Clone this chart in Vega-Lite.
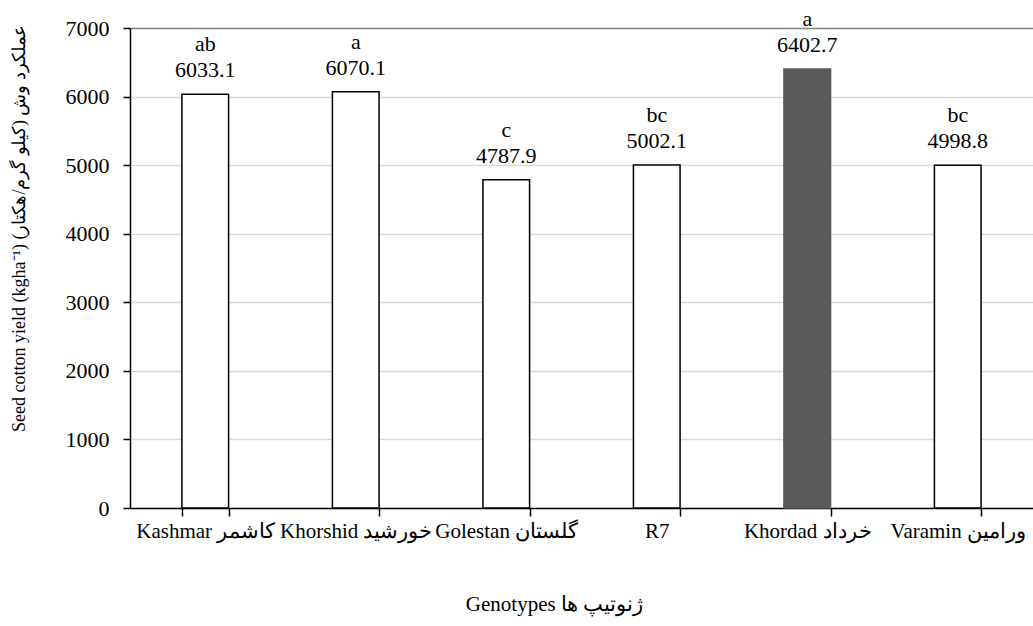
{
  "$schema": "https://vega.github.io/schema/vega-lite/v6.json",
  "autosize": {"type": "none"},
  "padding": {"left": 130, "top": 28, "right": 0, "bottom": 118},
  "width": 903,
  "height": 480,
  "background": "white",
  "config": {
    "view": {"stroke": null},
    "font": "Liberation Serif",
    "axis": {"labelFont": "Liberation Serif", "titleFont": "Liberation Serif", "labelColor": "black", "titleColor": "black", "titleFontWeight": "normal"}
  },
  "data": {
    "values": [
      {"genotype": "Kashmar کاشمر", "yield": 6033.1, "group": "ab", "label": "6033.1", "highlight": "no"},
      {"genotype": "Khorshid خورشید", "yield": 6070.1, "group": "a", "label": "6070.1", "highlight": "no"},
      {"genotype": "Golestan گلستان", "yield": 4787.9, "group": "c", "label": "4787.9", "highlight": "no"},
      {"genotype": "R7", "yield": 5002.1, "group": "bc", "label": "5002.1", "highlight": "no"},
      {"genotype": "Khordad خرداد", "yield": 6402.7, "group": "a", "label": "6402.7", "highlight": "yes"},
      {"genotype": "Varamin ورامین", "yield": 4998.8, "group": "bc", "label": "4998.8", "highlight": "no"}
    ]
  },
  "encoding": {
    "x": {
      "field": "genotype", "type": "nominal", "sort": null,
      "scale": {"paddingInner": 0.69, "paddingOuter": 0.345},
      "axis": {
        "title": "Genotypes ژنوتیپ ها",
        "titleFontSize": 21,
        "titleX": 424,
        "titleY": 96,
        "titleBaseline": "middle",
        "labelAngle": 0,
        "labelFontSize": 21,
        "labelPadding": 4,
        "tickBand": "extent",
        "tickSize": 8,
        "tickColor": "black",
        "tickWidth": 1.5,
        "domainColor": "black",
        "domainWidth": 1.5,
        "grid": false
      }
    },
    "y": {
      "field": "yield", "type": "quantitative",
      "scale": {"domain": [0, 7000], "nice": false},
      "axis": {
        "title": "Seed cotton yield (kgha⁻¹) عملکرد وش (کیلو گرم/هکتار)",
        "titleFontSize": 18,
        "titleX": -111,
        "titleY": 200,
        "titleBaseline": "middle",
        "values": [0, 1000, 2000, 3000, 4000, 5000, 6000, 7000],
        "format": "d",
        "labelFontSize": 22,
        "labelPadding": 14,
        "tickSize": 7,
        "tickColor": "black",
        "tickWidth": 1.5,
        "domainColor": "black",
        "domainWidth": 1.5,
        "grid": true,
        "gridColor": {"condition": {"test": "datum.value === 7000", "value": "#808080"}, "value": "#d9d9d9"},
        "gridWidth": 1.5
      }
    }
  },
  "layer": [
    {
      "mark": {"type": "bar", "strokeWidth": 1.5},
      "encoding": {
        "fill": {
          "field": "highlight", "type": "nominal",
          "scale": {"domain": ["no", "yes"], "range": ["white", "#595959"]},
          "legend": null
        },
        "stroke": {
          "field": "highlight", "type": "nominal",
          "scale": {"domain": ["no", "yes"], "range": ["black", "#595959"]},
          "legend": null
        }
      }
    },
    {
      "mark": {"type": "text", "baseline": "middle", "dy": -24, "fontSize": 22, "font": "Liberation Serif", "color": "black"},
      "encoding": {"text": {"field": "label"}}
    },
    {
      "mark": {"type": "text", "baseline": "middle", "dy": -50, "fontSize": 22, "font": "Liberation Serif", "color": "black"},
      "encoding": {"text": {"field": "group"}}
    }
  ]
}
